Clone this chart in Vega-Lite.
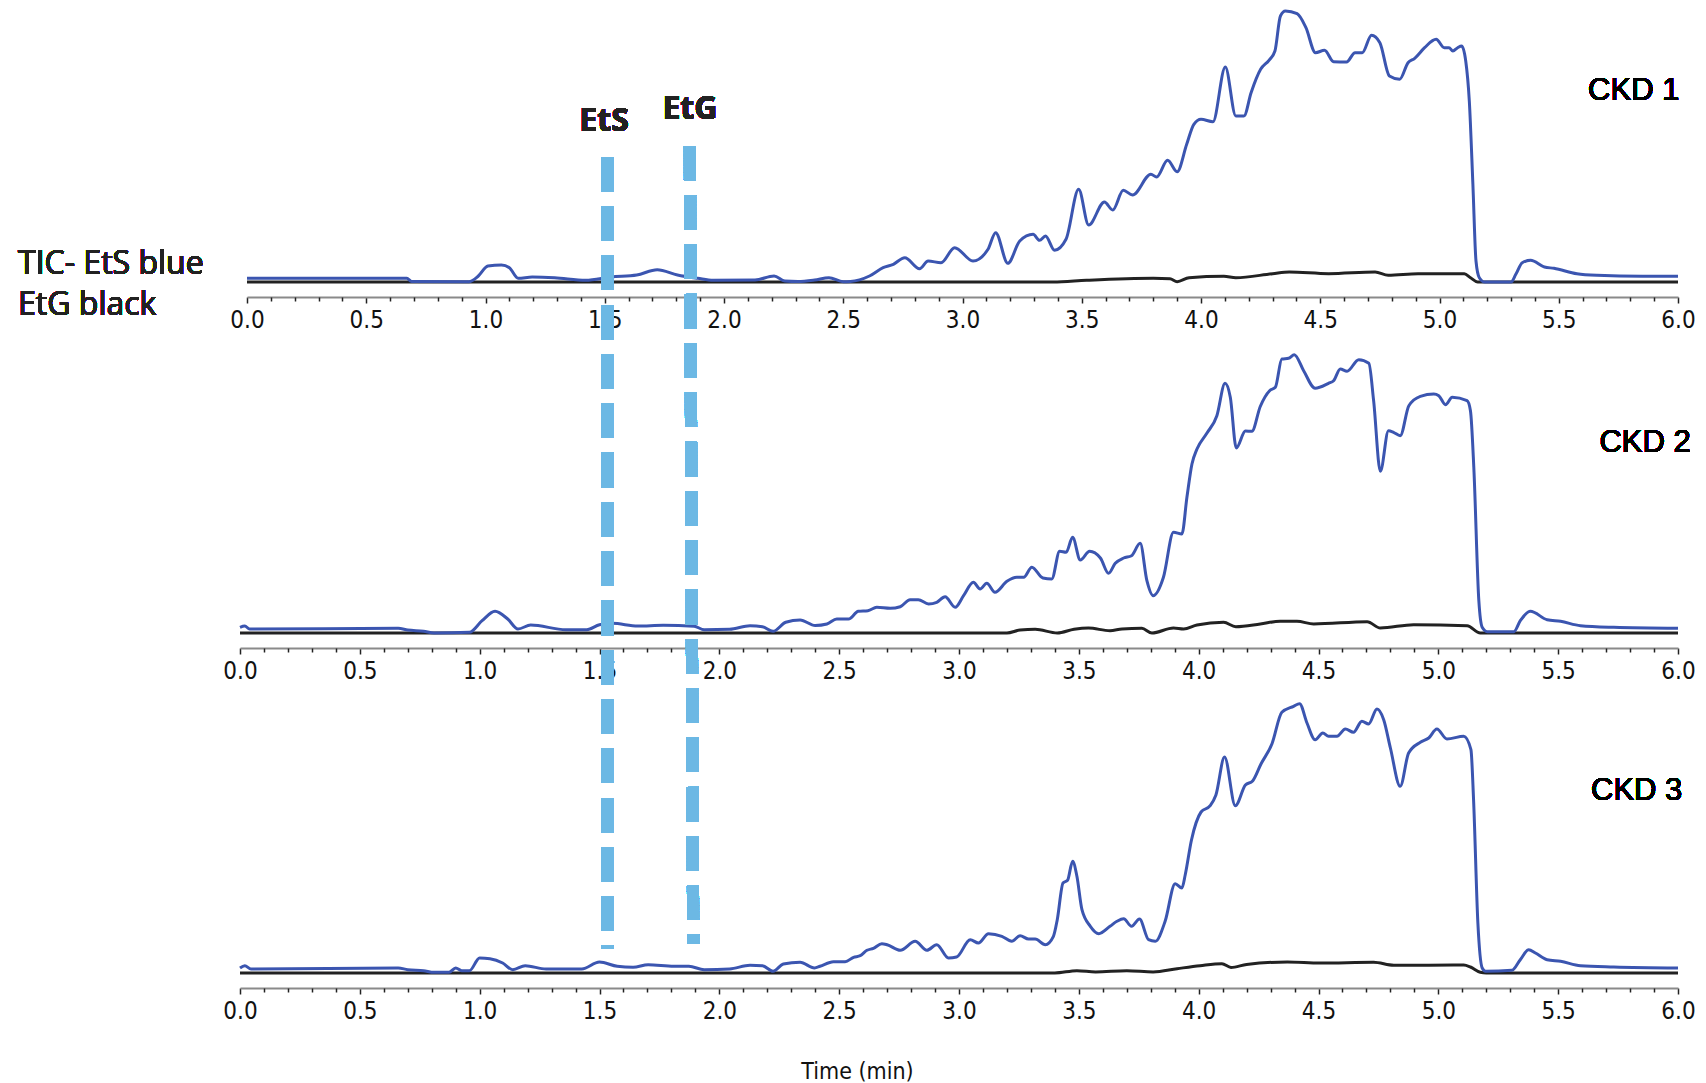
{
  "$schema": "https://vega.github.io/schema/vega-lite/v6.json",
  "background": "white",
  "padding": {"left": 18, "top": 4, "right": 10, "bottom": 5},
  "spacing": 40,
  "bounds": "flush",
  "config": {
    "view": {"stroke": null},
    "axis": {
      "grid": false,
      "labelFont": "DejaVu Sans Condensed, Liberation Sans Narrow, sans-serif",
      "labelFontSize": 24,
      "labelColor": "#111111",
      "labelFlush": false,
      "labelBound": false,
      "labelOverlap": false,
      "labelPadding": 5,
      "domainColor": "#8a8a8a",
      "domainWidth": 2,
      "tickColor": "#222222",
      "tickWidth": 1.5,
      "titleFont": "DejaVu Sans Condensed, Liberation Sans Narrow, sans-serif",
      "titleFontSize": 23,
      "titleFontWeight": "normal",
      "titleColor": "#111111"
    }
  },
  "datasets": {
    "ckd1": [
      {"series":"EtG","t":0,"v":0},{"series":"EtG","t":1,"v":0},{"series":"EtG","t":2,"v":0},{"series":"EtG","t":3,"v":0},{"series":"EtG","t":3.38,"v":0},{"series":"EtG","t":3.52,"v":1.7},{"series":"EtG","t":3.8,"v":3.7},{"series":"EtG","t":3.87,"v":3.3},{"series":"EtG","t":3.9,"v":0.3},{"series":"EtG","t":3.95,"v":4.3},{"series":"EtG","t":4.096,"v":5.7},{"series":"EtG","t":4.146,"v":4.3},{"series":"EtG","t":4.3,"v":8.3},{"series":"EtG","t":4.37,"v":10},{"series":"EtG","t":4.535,"v":8.3},{"series":"EtG","t":4.73,"v":10},{"series":"EtG","t":4.785,"v":6.7},{"series":"EtG","t":4.91,"v":8.3},{"series":"EtG","t":5.104,"v":8.3},{"series":"EtG","t":5.13,"v":4.3},{"series":"EtG","t":5.16,"v":0},{"series":"EtG","t":5.5,"v":0},{"series":"EtG","t":6,"v":0},
      {"series":"EtS","t":0,"v":3.7},{"series":"EtS","t":0.3,"v":3.7},{"series":"EtS","t":0.67,"v":3.7},{"series":"EtS","t":0.69,"v":0.5},{"series":"EtS","t":0.93,"v":0.3},{"series":"EtS","t":0.97,"v":6},{"series":"EtS","t":1.01,"v":16},{"series":"EtS","t":1.067,"v":17},{"series":"EtS","t":1.1,"v":14.3},{"series":"EtS","t":1.137,"v":3.7},{"series":"EtS","t":1.196,"v":5},{"series":"EtS","t":1.29,"v":4.3},{"series":"EtS","t":1.42,"v":1.7},{"series":"EtS","t":1.527,"v":5},{"series":"EtS","t":1.634,"v":7},{"series":"EtS","t":1.72,"v":12.3},{"series":"EtS","t":1.805,"v":7},{"series":"EtS","t":1.89,"v":3.7},{"series":"EtS","t":1.955,"v":1.7},{"series":"EtS","t":2.13,"v":2},{"series":"EtS","t":2.21,"v":6},{"series":"EtS","t":2.255,"v":1},{"series":"EtS","t":2.31,"v":0.5},{"series":"EtS","t":2.38,"v":2},{"series":"EtS","t":2.44,"v":4.3},{"series":"EtS","t":2.5,"v":0.3},{"series":"EtS","t":2.53,"v":0.5},{"series":"EtS","t":2.61,"v":6},{"series":"EtS","t":2.667,"v":14.3},{"series":"EtS","t":2.71,"v":17.7},{"series":"EtS","t":2.758,"v":24.3},{"series":"EtS","t":2.82,"v":13.3},{"series":"EtS","t":2.856,"v":21},{"series":"EtS","t":2.91,"v":19.3},{"series":"EtS","t":2.967,"v":34.3},{"series":"EtS","t":3.044,"v":21},{"series":"EtS","t":3.107,"v":32.7},{"series":"EtS","t":3.139,"v":49.3},{"series":"EtS","t":3.19,"v":18.7},{"series":"EtS","t":3.24,"v":41},{"series":"EtS","t":3.296,"v":47.7},{"series":"EtS","t":3.323,"v":41.7},{"series":"EtS","t":3.348,"v":46},{"series":"EtS","t":3.386,"v":31.7},{"series":"EtS","t":3.434,"v":42.7},{"series":"EtS","t":3.487,"v":92.7},{"series":"EtS","t":3.529,"v":57},{"series":"EtS","t":3.595,"v":80},{"series":"EtS","t":3.63,"v":72},{"series":"EtS","t":3.674,"v":91.7},{"series":"EtS","t":3.713,"v":87},{"series":"EtS","t":3.79,"v":107.7},{"series":"EtS","t":3.814,"v":105},{"series":"EtS","t":3.86,"v":121.7},{"series":"EtS","t":3.9,"v":110.3},{"series":"EtS","t":3.94,"v":137.7},{"series":"EtS","t":3.97,"v":157.7},{"series":"EtS","t":4.0,"v":162.7},{"series":"EtS","t":4.05,"v":160.3},{"series":"EtS","t":4.102,"v":215},{"series":"EtS","t":4.146,"v":166},{"series":"EtS","t":4.18,"v":166},{"series":"EtS","t":4.21,"v":189.3},{"series":"EtS","t":4.25,"v":212.7},{"series":"EtS","t":4.285,"v":221.7},{"series":"EtS","t":4.31,"v":231},{"series":"EtS","t":4.333,"v":266},{"series":"EtS","t":4.354,"v":271},{"series":"EtS","t":4.403,"v":268.3},{"series":"EtS","t":4.44,"v":254.3},{"series":"EtS","t":4.48,"v":229.3},{"series":"EtS","t":4.518,"v":231.7},{"series":"EtS","t":4.556,"v":220.3},{"series":"EtS","t":4.61,"v":220},{"series":"EtS","t":4.646,"v":229.3},{"series":"EtS","t":4.676,"v":229.3},{"series":"EtS","t":4.715,"v":246.7},{"series":"EtS","t":4.75,"v":239.3},{"series":"EtS","t":4.79,"v":206},{"series":"EtS","t":4.833,"v":202.7},{"series":"EtS","t":4.868,"v":219.3},{"series":"EtS","t":4.896,"v":223.7},{"series":"EtS","t":4.9375,"v":234.3},{"series":"EtS","t":4.986,"v":242.7},{"series":"EtS","t":5.02,"v":234.3},{"series":"EtS","t":5.04,"v":234.3},{"series":"EtS","t":5.056,"v":231},{"series":"EtS","t":5.076,"v":234.3},{"series":"EtS","t":5.093,"v":236},{"series":"EtS","t":5.11,"v":221},{"series":"EtS","t":5.125,"v":181},{"series":"EtS","t":5.14,"v":97.7},{"series":"EtS","t":5.153,"v":21},{"series":"EtS","t":5.167,"v":4.3},{"series":"EtS","t":5.19,"v":0},{"series":"EtS","t":5.3,"v":0},{"series":"EtS","t":5.32,"v":7.7},{"series":"EtS","t":5.347,"v":19.3},{"series":"EtS","t":5.382,"v":21.7},{"series":"EtS","t":5.44,"v":15},{"series":"EtS","t":5.48,"v":13.7},{"series":"EtS","t":5.576,"v":8.3},{"series":"EtS","t":5.66,"v":6.7},{"series":"EtS","t":5.85,"v":5.7},{"series":"EtS","t":6,"v":5.7}
    ],
    "ckd2": [
      {"series":"EtG","t":0,"v":0},{"series":"EtG","t":1,"v":0},{"series":"EtG","t":2,"v":0},{"series":"EtG","t":3,"v":0},{"series":"EtG","t":3.2,"v":0},{"series":"EtG","t":3.255,"v":3},{"series":"EtG","t":3.318,"v":3.7},{"series":"EtG","t":3.41,"v":0},{"series":"EtG","t":3.48,"v":3.7},{"series":"EtG","t":3.54,"v":5},{"series":"EtG","t":3.63,"v":2.3},{"series":"EtG","t":3.68,"v":4},{"series":"EtG","t":3.763,"v":4.7},{"series":"EtG","t":3.805,"v":0},{"series":"EtG","t":3.895,"v":5},{"series":"EtG","t":3.937,"v":4},{"series":"EtG","t":3.993,"v":8},{"series":"EtG","t":4.104,"v":10.7},{"series":"EtG","t":4.155,"v":6.3},{"series":"EtG","t":4.257,"v":9},{"series":"EtG","t":4.34,"v":11.7},{"series":"EtG","t":4.41,"v":11.7},{"series":"EtG","t":4.48,"v":9},{"series":"EtG","t":4.703,"v":11.3},{"series":"EtG","t":4.758,"v":5},{"series":"EtG","t":4.897,"v":8.3},{"series":"EtG","t":5.12,"v":7.3},{"series":"EtG","t":5.175,"v":0},{"series":"EtG","t":5.5,"v":0},{"series":"EtG","t":6,"v":0},
      {"series":"EtS","t":0,"v":5.7},{"series":"EtS","t":0.02,"v":7},{"series":"EtS","t":0.04,"v":4},{"series":"EtS","t":0.66,"v":4.7},{"series":"EtS","t":0.7,"v":3},{"series":"EtS","t":0.766,"v":1.7},{"series":"EtS","t":0.81,"v":0},{"series":"EtS","t":0.957,"v":0.7},{"series":"EtS","t":1.01,"v":12.3},{"series":"EtS","t":1.064,"v":21.7},{"series":"EtS","t":1.117,"v":14},{"series":"EtS","t":1.16,"v":4},{"series":"EtS","t":1.213,"v":8},{"series":"EtS","t":1.36,"v":3.3},{"series":"EtS","t":1.447,"v":3.3},{"series":"EtS","t":1.5,"v":8.3},{"series":"EtS","t":1.553,"v":9.7},{"series":"EtS","t":1.66,"v":7},{"series":"EtS","t":1.766,"v":7.7},{"series":"EtS","t":1.895,"v":6.7},{"series":"EtS","t":1.937,"v":3.3},{"series":"EtS","t":2.043,"v":3.7},{"series":"EtS","t":2.128,"v":7.3},{"series":"EtS","t":2.18,"v":6.3},{"series":"EtS","t":2.224,"v":1.7},{"series":"EtS","t":2.277,"v":10.7},{"series":"EtS","t":2.337,"v":13},{"series":"EtS","t":2.4,"v":7.5},{"series":"EtS","t":2.449,"v":9},{"series":"EtS","t":2.49,"v":14},{"series":"EtS","t":2.539,"v":14},{"series":"EtS","t":2.58,"v":21.7},{"series":"EtS","t":2.62,"v":22.3},{"series":"EtS","t":2.657,"v":25.7},{"series":"EtS","t":2.713,"v":24.7},{"series":"EtS","t":2.755,"v":26.3},{"series":"EtS","t":2.796,"v":33.3},{"series":"EtS","t":2.83,"v":33.3},{"series":"EtS","t":2.873,"v":29},{"series":"EtS","t":2.907,"v":30.7},{"series":"EtS","t":2.942,"v":36.3},{"series":"EtS","t":2.984,"v":25.7},{"series":"EtS","t":3.019,"v":37.3},{"series":"EtS","t":3.06,"v":50.7},{"series":"EtS","t":3.088,"v":44},{"series":"EtS","t":3.116,"v":49.7},{"series":"EtS","t":3.15,"v":40.7},{"series":"EtS","t":3.2,"v":51.7},{"series":"EtS","t":3.241,"v":55.7},{"series":"EtS","t":3.27,"v":55.7},{"series":"EtS","t":3.304,"v":65.7},{"series":"EtS","t":3.35,"v":55},{"series":"EtS","t":3.387,"v":54},{"series":"EtS","t":3.42,"v":81.7},{"series":"EtS","t":3.447,"v":80.7},{"series":"EtS","t":3.474,"v":95.7},{"series":"EtS","t":3.506,"v":73},{"series":"EtS","t":3.545,"v":81.7},{"series":"EtS","t":3.59,"v":75},{"series":"EtS","t":3.624,"v":59.7},{"series":"EtS","t":3.652,"v":69.7},{"series":"EtS","t":3.687,"v":75},{"series":"EtS","t":3.72,"v":77.3},{"series":"EtS","t":3.756,"v":89.7},{"series":"EtS","t":3.784,"v":52.3},{"series":"EtS","t":3.81,"v":37.3},{"series":"EtS","t":3.853,"v":55.7},{"series":"EtS","t":3.895,"v":100.7},{"series":"EtS","t":3.93,"v":99},{"series":"EtS","t":3.951,"v":135.7},{"series":"EtS","t":3.972,"v":169},{"series":"EtS","t":3.993,"v":184},{"series":"EtS","t":4.034,"v":199.7},{"series":"EtS","t":4.076,"v":217.3},{"series":"EtS","t":4.11,"v":249.7},{"series":"EtS","t":4.132,"v":235.7},{"series":"EtS","t":4.157,"v":185},{"series":"EtS","t":4.195,"v":202},{"series":"EtS","t":4.222,"v":201.7},{"series":"EtS","t":4.257,"v":226.5},{"series":"EtS","t":4.296,"v":242.3},{"series":"EtS","t":4.32,"v":245.7},{"series":"EtS","t":4.347,"v":274},{"series":"EtS","t":4.375,"v":274.7},{"series":"EtS","t":4.399,"v":278.3},{"series":"EtS","t":4.438,"v":262.3},{"series":"EtS","t":4.486,"v":244.7},{"series":"EtS","t":4.542,"v":249.7},{"series":"EtS","t":4.563,"v":252.3},{"series":"EtS","t":4.591,"v":264},{"series":"EtS","t":4.619,"v":261.7},{"series":"EtS","t":4.668,"v":273.3},{"series":"EtS","t":4.71,"v":269.7},{"series":"EtS","t":4.73,"v":232.3},{"series":"EtS","t":4.758,"v":161.7},{"series":"EtS","t":4.792,"v":202.3},{"series":"EtS","t":4.813,"v":200.7},{"series":"EtS","t":4.841,"v":197.3},{"series":"EtS","t":4.877,"v":227.3},{"series":"EtS","t":4.925,"v":236.7},{"series":"EtS","t":4.981,"v":239},{"series":"EtS","t":5.002,"v":237.3},{"series":"EtS","t":5.03,"v":228.3},{"series":"EtS","t":5.058,"v":235.7},{"series":"EtS","t":5.12,"v":232.3},{"series":"EtS","t":5.134,"v":222.3},{"series":"EtS","t":5.148,"v":165.7},{"series":"EtS","t":5.169,"v":32.3},{"series":"EtS","t":5.183,"v":5.7},{"series":"EtS","t":5.204,"v":1.3},{"series":"EtS","t":5.315,"v":1.3},{"series":"EtS","t":5.342,"v":12.3},{"series":"EtS","t":5.384,"v":21.7},{"series":"EtS","t":5.454,"v":13.3},{"series":"EtS","t":5.51,"v":11.7},{"series":"EtS","t":5.593,"v":7.3},{"series":"EtS","t":5.732,"v":5.7},{"series":"EtS","t":6,"v":4.7}
    ],
    "ckd3": [
      {"series":"EtG","t":0,"v":0},{"series":"EtG","t":1,"v":0},{"series":"EtG","t":2,"v":0},{"series":"EtG","t":3,"v":0},{"series":"EtG","t":3.4,"v":0},{"series":"EtG","t":3.492,"v":2.3},{"series":"EtG","t":3.57,"v":1},{"series":"EtG","t":3.7,"v":2.3},{"series":"EtG","t":3.81,"v":1},{"series":"EtG","t":3.91,"v":4.3},{"series":"EtG","t":4.006,"v":7.3},{"series":"EtG","t":4.097,"v":9.3},{"series":"EtG","t":4.135,"v":5.5},{"series":"EtG","t":4.2,"v":8.5},{"series":"EtG","t":4.37,"v":11},{"series":"EtG","t":4.507,"v":10},{"series":"EtG","t":4.73,"v":10.7},{"series":"EtG","t":4.814,"v":7.7},{"series":"EtG","t":5.106,"v":8},{"series":"EtG","t":5.134,"v":6},{"series":"EtG","t":5.175,"v":0.7},{"series":"EtG","t":5.2,"v":0},{"series":"EtG","t":5.5,"v":0},{"series":"EtG","t":6,"v":0},
      {"series":"EtS","t":0,"v":5},{"series":"EtS","t":0.02,"v":7.3},{"series":"EtS","t":0.046,"v":4},{"series":"EtS","t":0.66,"v":5},{"series":"EtS","t":0.7,"v":3.3},{"series":"EtS","t":0.766,"v":2.3},{"series":"EtS","t":0.81,"v":0.7},{"series":"EtS","t":0.872,"v":0.7},{"series":"EtS","t":0.9,"v":5},{"series":"EtS","t":0.925,"v":2.3},{"series":"EtS","t":0.957,"v":2.3},{"series":"EtS","t":1.0,"v":15},{"series":"EtS","t":1.043,"v":14.3},{"series":"EtS","t":1.096,"v":10},{"series":"EtS","t":1.138,"v":3.3},{"series":"EtS","t":1.19,"v":7.3},{"series":"EtS","t":1.277,"v":4},{"series":"EtS","t":1.426,"v":4},{"series":"EtS","t":1.5,"v":11},{"series":"EtS","t":1.574,"v":6.7},{"series":"EtS","t":1.64,"v":5.7},{"series":"EtS","t":1.703,"v":8.3},{"series":"EtS","t":1.81,"v":6.7},{"series":"EtS","t":1.873,"v":6.7},{"series":"EtS","t":1.937,"v":3.3},{"series":"EtS","t":2.043,"v":4},{"series":"EtS","t":2.128,"v":7.7},{"series":"EtS","t":2.18,"v":7.3},{"series":"EtS","t":2.224,"v":1.7},{"series":"EtS","t":2.267,"v":9},{"series":"EtS","t":2.337,"v":10.7},{"series":"EtS","t":2.397,"v":5},{"series":"EtS","t":2.42,"v":6.7},{"series":"EtS","t":2.476,"v":11.3},{"series":"EtS","t":2.525,"v":11.3},{"series":"EtS","t":2.56,"v":15.7},{"series":"EtS","t":2.588,"v":17.3},{"series":"EtS","t":2.616,"v":22.7},{"series":"EtS","t":2.643,"v":24.7},{"series":"EtS","t":2.678,"v":29.3},{"series":"EtS","t":2.7,"v":28.3},{"series":"EtS","t":2.755,"v":22.7},{"series":"EtS","t":2.817,"v":31.7},{"series":"EtS","t":2.866,"v":22.7},{"series":"EtS","t":2.907,"v":28.3},{"series":"EtS","t":2.956,"v":15},{"series":"EtS","t":2.99,"v":16},{"series":"EtS","t":3.047,"v":33.3},{"series":"EtS","t":3.081,"v":30},{"series":"EtS","t":3.123,"v":39.3},{"series":"EtS","t":3.179,"v":36.7},{"series":"EtS","t":3.22,"v":31.7},{"series":"EtS","t":3.255,"v":37.3},{"series":"EtS","t":3.29,"v":34},{"series":"EtS","t":3.318,"v":34},{"series":"EtS","t":3.36,"v":28.3},{"series":"EtS","t":3.394,"v":36.7},{"series":"EtS","t":3.41,"v":53.3},{"series":"EtS","t":3.434,"v":90},{"series":"EtS","t":3.453,"v":92.7},{"series":"EtS","t":3.474,"v":111.7},{"series":"EtS","t":3.492,"v":96.7},{"series":"EtS","t":3.513,"v":63.3},{"series":"EtS","t":3.548,"v":46.7},{"series":"EtS","t":3.583,"v":39.3},{"series":"EtS","t":3.63,"v":46.7},{"series":"EtS","t":3.659,"v":51.7},{"series":"EtS","t":3.687,"v":54.3},{"series":"EtS","t":3.72,"v":46.7},{"series":"EtS","t":3.753,"v":54},{"series":"EtS","t":3.791,"v":33.3},{"series":"EtS","t":3.819,"v":31.7},{"series":"EtS","t":3.86,"v":51.7},{"series":"EtS","t":3.902,"v":89.3},{"series":"EtS","t":3.93,"v":85},{"series":"EtS","t":3.944,"v":98.3},{"series":"EtS","t":3.97,"v":133},{"series":"EtS","t":4.01,"v":161},{"series":"EtS","t":4.048,"v":167.3},{"series":"EtS","t":4.072,"v":178},{"series":"EtS","t":4.108,"v":216},{"series":"EtS","t":4.153,"v":167.3},{"series":"EtS","t":4.195,"v":188},{"series":"EtS","t":4.225,"v":192},{"series":"EtS","t":4.26,"v":209},{"series":"EtS","t":4.306,"v":229.3},{"series":"EtS","t":4.347,"v":260.7},{"series":"EtS","t":4.396,"v":266.7},{"series":"EtS","t":4.421,"v":269.3},{"series":"EtS","t":4.452,"v":250},{"series":"EtS","t":4.486,"v":233.3},{"series":"EtS","t":4.518,"v":240},{"series":"EtS","t":4.542,"v":236.7},{"series":"EtS","t":4.577,"v":236.7},{"series":"EtS","t":4.612,"v":244},{"series":"EtS","t":4.646,"v":240.7},{"series":"EtS","t":4.681,"v":251.7},{"series":"EtS","t":4.709,"v":249},{"series":"EtS","t":4.744,"v":264},{"series":"EtS","t":4.772,"v":253.3},{"series":"EtS","t":4.8,"v":225},{"series":"EtS","t":4.841,"v":186.7},{"series":"EtS","t":4.876,"v":220},{"series":"EtS","t":4.925,"v":230.7},{"series":"EtS","t":4.96,"v":235},{"series":"EtS","t":4.994,"v":244},{"series":"EtS","t":5.036,"v":234},{"series":"EtS","t":5.106,"v":236.7},{"series":"EtS","t":5.136,"v":223.3},{"series":"EtS","t":5.147,"v":173.3},{"series":"EtS","t":5.165,"v":50},{"series":"EtS","t":5.183,"v":5},{"series":"EtS","t":5.197,"v":1.7},{"series":"EtS","t":5.307,"v":2.7},{"series":"EtS","t":5.342,"v":13.3},{"series":"EtS","t":5.377,"v":23.3},{"series":"EtS","t":5.405,"v":20},{"series":"EtS","t":5.454,"v":13.3},{"series":"EtS","t":5.51,"v":11.7},{"series":"EtS","t":5.593,"v":7.3},{"series":"EtS","t":5.732,"v":6},{"series":"EtS","t":6,"v":5}
    ]
  },
  "vconcat": [
    {
      "width": 1438,
      "height": 288,
      "data": {"name": "ckd1"},
      "resolve": {"axis": {"x": "independent"}},
      "layer": [
        {
          "mark": {"type": "line", "interpolate": "monotone", "strokeWidth": 3},
          "encoding": {
            "x": {"field": "t", "type": "quantitative", "scale": {"domain": [0, 6], "nice": false, "zero": false, "range": [7, 1438]},
              "axis": {"title": null, "orient": "bottom", "values": [0,0.5,1,1.5,2,2.5,3,3.5,4,4.5,5,5.5,6], "format": ".1f", "tickSize": 6, "labelOverlap": false}},
            "y": {"field": "v", "type": "quantitative", "scale": {"domain": [-15, 273], "nice": false, "zero": false}, "axis": null},
            "color": {"field": "series", "type": "nominal", "scale": {"domain": ["EtG", "EtS"], "range": ["#222222", "#3B55B0"]}, "legend": null}
          }
        },
        {
          "mark": {"type": "text", "text": "CKD 1", "align": "left", "baseline": "middle", "font": "Liberation Sans", "fontWeight": "normal", "fontSize": 31, "color": "#000000"},
          "encoding": {
            "x": {"datum": 5.623, "axis": {"title": null, "orient": "bottom", "labels": false, "domain": false, "tickSize": 4, "values": [0.1,0.2,0.3,0.4,0.6,0.7,0.8,0.9,1.1,1.2,1.3,1.4,1.6,1.7,1.8,1.9,2.1,2.2,2.3,2.4,2.6,2.7,2.8,2.9,3.1,3.2,3.3,3.4,3.6,3.7,3.8,3.9,4.1,4.2,4.3,4.4,4.6,4.7,4.8,4.9,5.1,5.2,5.3,5.4,5.6,5.7,5.8,5.9]}},
            "y": {"datum": 191}
          }
        },
        {
          "mark": {"type": "text", "text": ["TIC- EtS blue", "EtG black"], "align": "left", "baseline": "middle", "lineHeight": 41, "font": "Open Sans", "fontWeight": "normal", "fontSize": 32, "color": "#222222"},
          "encoding": {"x": {"datum": -0.96, "axis": null}, "y": {"datum": 18}}
        },
        {
          "mark": {"type": "text", "text": "EtS", "align": "center", "baseline": "middle", "font": "Open Sans", "fontWeight": "bold", "fontSize": 32, "color": "#222222"},
          "encoding": {"x": {"datum": 1.497, "axis": null}, "y": {"datum": 161}}
        },
        {
          "mark": {"type": "text", "text": "EtG", "align": "center", "baseline": "middle", "font": "Open Sans", "fontWeight": "bold", "fontSize": 32, "color": "#222222"},
          "encoding": {"x": {"datum": 1.857, "axis": null}, "y": {"datum": 173}}
        }
      ]
    },
    {
      "width": 1438,
      "height": 311,
      "data": {"name": "ckd2"},
      "resolve": {"axis": {"x": "independent"}},
      "layer": [
        {
          "mark": {"type": "line", "interpolate": "monotone", "strokeWidth": 3},
          "encoding": {
            "x": {"field": "t", "type": "quantitative", "scale": {"domain": [0, 6], "nice": false, "zero": false},
              "axis": {"title": null, "orient": "bottom", "values": [0,0.5,1,1.5,2,2.5,3,3.5,4,4.5,5,5.5,6], "format": ".1f", "tickSize": 6, "labelOverlap": false}},
            "y": {"field": "v", "type": "quantitative", "scale": {"domain": [-15, 296], "nice": false, "zero": false}, "axis": null},
            "color": {"field": "series", "type": "nominal", "scale": {"domain": ["EtG", "EtS"], "range": ["#222222", "#3B55B0"]}, "legend": null}
          }
        },
        {
          "mark": {"type": "text", "text": "CKD 2", "align": "left", "baseline": "middle", "font": "Liberation Sans", "fontWeight": "normal", "fontSize": 31, "color": "#000000"},
          "encoding": {
            "x": {"datum": 5.672, "axis": {"title": null, "orient": "bottom", "labels": false, "domain": false, "tickSize": 4, "values": [0.1,0.2,0.3,0.4,0.6,0.7,0.8,0.9,1.1,1.2,1.3,1.4,1.6,1.7,1.8,1.9,2.1,2.2,2.3,2.4,2.6,2.7,2.8,2.9,3.1,3.2,3.3,3.4,3.6,3.7,3.8,3.9,4.1,4.2,4.3,4.4,4.6,4.7,4.8,4.9,5.1,5.2,5.3,5.4,5.6,5.7,5.8,5.9]}},
            "y": {"datum": 190}
          }
        }
      ]
    },
    {
      "width": 1438,
      "height": 300,
      "data": {"name": "ckd3"},
      "resolve": {"axis": {"x": "independent"}},
      "layer": [
        {
          "mark": {"type": "line", "interpolate": "monotone", "strokeWidth": 3},
          "encoding": {
            "x": {"field": "t", "type": "quantitative", "scale": {"domain": [0, 6], "nice": false, "zero": false},
              "axis": {"title": "Time (min)", "titleX": 617, "titleY": 83, "titleAnchor": null, "titleAlign": "center", "titleBaseline": "middle", "orient": "bottom", "values": [0,0.5,1,1.5,2,2.5,3,3.5,4,4.5,5,5.5,6], "format": ".1f", "tickSize": 6, "labelOverlap": false}},
            "y": {"field": "v", "type": "quantitative", "scale": {"domain": [-15, 285], "nice": false, "zero": false}, "axis": null},
            "color": {"field": "series", "type": "nominal", "scale": {"domain": ["EtG", "EtS"], "range": ["#222222", "#3B55B0"]}, "legend": null}
          }
        },
        {
          "mark": {"type": "text", "text": "CKD 3", "align": "left", "baseline": "middle", "font": "Liberation Sans", "fontWeight": "normal", "fontSize": 31, "color": "#000000"},
          "encoding": {
            "x": {"datum": 5.637, "axis": {"title": null, "orient": "bottom", "labels": false, "domain": false, "tickSize": 4, "values": [0.1,0.2,0.3,0.4,0.6,0.7,0.8,0.9,1.1,1.2,1.3,1.4,1.6,1.7,1.8,1.9,2.1,2.2,2.3,2.4,2.6,2.7,2.8,2.9,3.1,3.2,3.3,3.4,3.6,3.7,3.8,3.9,4.1,4.2,4.3,4.4,4.6,4.7,4.8,4.9,5.1,5.2,5.3,5.4,5.6,5.7,5.8,5.9]}},
            "y": {"datum": 182}
          }
        },
        {
          "mark": {"type": "rule", "strokeWidth": 12, "strokeDash": [34.5, 14.8], "strokeCap": "butt", "color": "#6CB8E4"},
          "encoding": {"x": {"datum": 1.532, "axis": null}, "y": {"datum": 816}, "y2": {"datum": 24}}
        },
        {
          "mark": {"type": "rule", "strokeWidth": 12, "strokeDash": [34.5, 14.8], "strokeCap": "butt", "color": "#6CB8E4"},
          "encoding": {"x": {"datum": 1.877, "axis": null}, "x2": {"datum": 1.891}, "y": {"datum": 827}, "y2": {"datum": 29}}
        }
      ]
    }
  ]
}
